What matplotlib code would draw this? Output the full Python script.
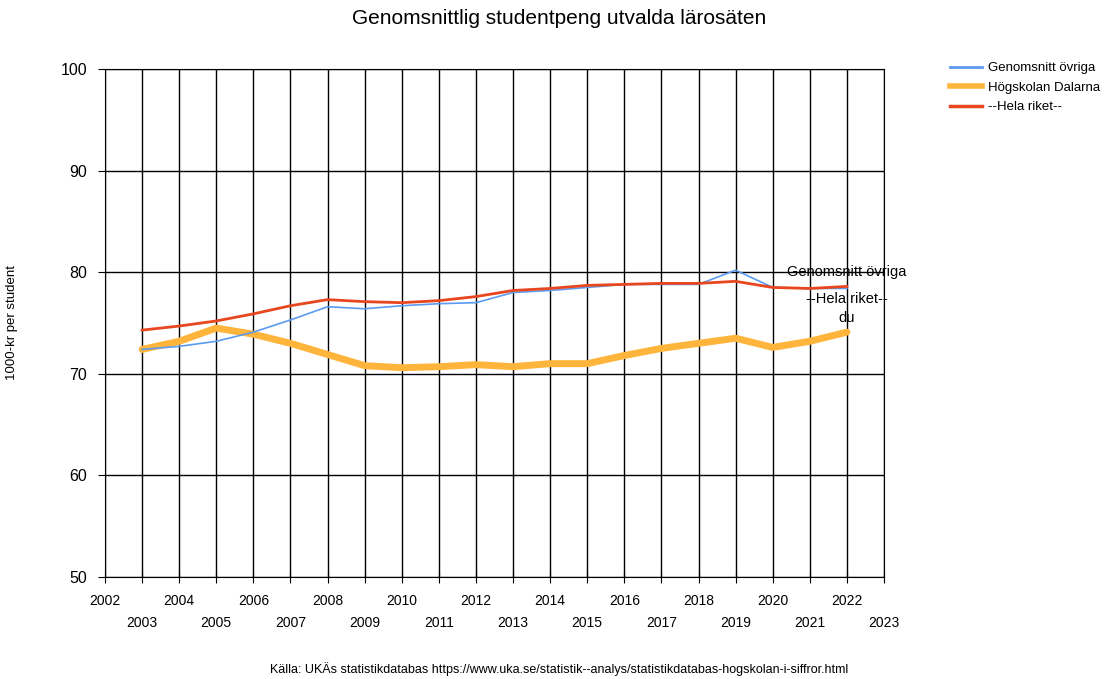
import matplotlib.pyplot as plt
from matplotlib.lines import Line2D

plt.rcParams['font.family'] = ['Liberation Sans', 'DejaVu Sans']

years = list(range(2003, 2023))
ovriga = [72.4, 72.7, 73.2, 74.1, 75.3, 76.6, 76.4, 76.7, 76.9, 77.0,
          78.0, 78.2, 78.5, 78.8, 78.8, 78.8, 80.2, 78.5, 78.4, 78.4]
dalarna = [72.4, 73.2, 74.5, 73.9, 73.0, 71.9, 70.8, 70.6, 70.7, 70.9,
           70.7, 71.0, 71.0, 71.8, 72.5, 73.0, 73.5, 72.6, 73.2, 74.1]
riket = [74.3, 74.7, 75.2, 75.9, 76.7, 77.3, 77.1, 77.0, 77.2, 77.6,
         78.2, 78.4, 78.7, 78.8, 78.9, 78.9, 79.1, 78.5, 78.4, 78.6]
tick_years = list(range(2002, 2024))

c_ovr = '#5B9BF0'
c_dal = '#FFB43C'
c_rik = '#E8461E'

fig = plt.figure(figsize=(11.18, 6.79), dpi=100)
ax = fig.add_axes([105 / 1118, 1 - 577 / 679, (884 - 105) / 1118, (577 - 69) / 679])

ax.plot(years, ovriga, color=c_ovr, lw=1.2, zorder=3)
ax.plot(years, dalarna, color=c_dal, lw=5, solid_capstyle='round', zorder=2)
ax.plot(years, riket, color=c_rik, lw=2, zorder=4)

# data labels at the end of the series
ax.text(years[-1], 80.0, 'Genomsnitt övriga', ha='center', va='center', fontsize=10.5, zorder=5)
ax.text(years[-1], 77.4, '--Hela riket--', ha='center', va='center', fontsize=10.5, zorder=5)
ax.text(years[-1], 75.5, 'du', ha='center', va='center', fontsize=10.5, zorder=5)

ax.set_xlim(2002, 2023)
ax.set_ylim(50, 100)
ax.set_xticks(tick_years)
ax.set_xticklabels([str(y) if y % 2 == 0 else '\n' + str(y) for y in tick_years],
                   fontsize=10, linespacing=1.75)
ax.set_yticks(range(50, 101, 10))
ax.tick_params(axis='y', labelsize=11.5, direction='out', length=5, pad=8)
ax.tick_params(axis='x', direction='inout', length=8, pad=8)
ax.grid(True, color='black', lw=1)
ax.set_axisbelow(True)
for s in ax.spines.values():
    s.set_color('black')

ax.set_ylabel('1000-kr per student', fontsize=9.5)
ax.yaxis.set_label_coords(-(105 - 18) / 779, 0.5)
fig.text(0.5, 1 - 18 / 679, 'Genomsnittlig studentpeng utvalda lärosäten',
         ha='center', va='center', fontsize=15)
fig.text(0.5, 1 - 669 / 679,
         'Källa: UKÄs statistikdatabas https://www.uka.se/statistik--analys/statistikdatabas-hogskolan-i-siffror.html',
         ha='center', va='center', fontsize=9)

handles = [Line2D([], [], color=c_ovr, lw=2),
           Line2D([], [], color=c_dal, lw=4),
           Line2D([], [], color=c_rik, lw=2.5)]
labels = ['Genomsnitt övriga', 'Högskolan Dalarna', '--Hela riket--']
fig.legend(handles, labels, loc='upper left', bbox_to_anchor=(950 / 1118, 1 - 62 / 679),
           frameon=False, fontsize=9.5, handlelength=2.4, handletextpad=0.45,
           labelspacing=0.55, borderaxespad=0, borderpad=0)

fig.savefig('out.png', dpi=100)
